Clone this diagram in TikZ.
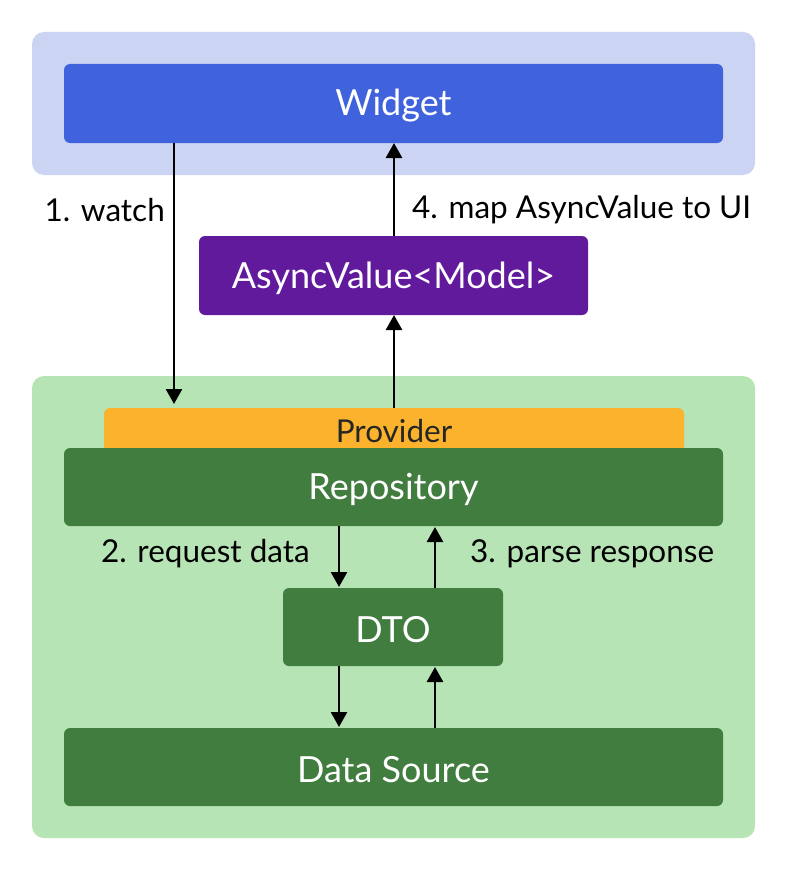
\documentclass[tikz,border=0pt]{standalone}
\usepackage{fontspec}
\setmainfont{Lato}
\usetikzlibrary{arrows.meta}
\definecolor{outerblue}{HTML}{CBD5F3}
\definecolor{widgetblue}{HTML}{4063DD}
\definecolor{outergreen}{HTML}{B7E4B5}
\definecolor{darkgreen}{HTML}{427D40}
\definecolor{provorange}{HTML}{FBB32D}
\definecolor{asyncpurple}{HTML}{621A9C}
\tikzset{
  container/.style={rounded corners=12pt, draw=none},
  box/.style={rounded corners=6pt, draw=none, text=white, font=\fontsize{36}{42}\selectfont},
  lbl/.style={font=\fontsize{31.5}{36}\selectfont, text=black, inner sep=0pt},
  conn/.style={line width=2.6pt, -{Triangle[length=15pt,width=16pt]}},
}
\begin{document}
\begin{tikzpicture}[x=1pt,y=-1pt]
\useasboundingbox (0,0) rectangle (788,872);
\fill[white] (0,0) rectangle (788,872);
% containers
\fill[outerblue, container] (32,32) rectangle (755,175);
\fill[outergreen, container] (32,376) rectangle (755,838);
% boxes
\fill[widgetblue, rounded corners=6pt] (64,64) rectangle (723,143);
\node[box] (widget) at (393.5,106) {Widget};
\fill[asyncpurple, rounded corners=6pt] (199,236) rectangle (588,315);
\node[box] (async) at (393.5,278) {AsyncValue<Model>};
\fill[provorange, rounded corners=6pt] (104,408) rectangle (684,454);
\node[lbl, text=black!85] (provider) at (394,431) {Provider};
\fill[darkgreen, rounded corners=6pt] (64,448) rectangle (723,526);
\node[box] (repo) at (393.5,489.5) {Repository};
\fill[darkgreen, rounded corners=6pt] (283,588) rectangle (503,666);
\node[box] (dto) at (393,629.5) {DTO};
\fill[darkgreen, rounded corners=6pt] (64,728) rectangle (723,806);
\node[box] (ds) at (393.5,769.5) {Data Source};
% anchor coordinates
\coordinate (w1) at (174,143);
\coordinate (p1) at (174,404);
\coordinate (w4) at (394,143);
\coordinate (a4) at (394,236);
\coordinate (a5) at (394,315);
\coordinate (p5) at (394,408);
\coordinate (r2) at (339,526);
\coordinate (d2) at (339,587);
\coordinate (r3) at (435,527);
\coordinate (d3) at (435,588);
\coordinate (d6) at (339,666);
\coordinate (s6) at (339,727);
\coordinate (d7) at (435,667);
\coordinate (s7) at (435,728);
% connectors
\draw[conn] (w1) -- (p1);
\draw[conn] (a4) -- (w4);
\draw[conn] (p5) -- (a5);
\draw[conn] (r2) -- (d2);
\draw[conn] (d3) -- (r3);
\draw[conn] (d6) -- (s6);
\draw[conn] (s7) -- (d7);
% labels
\node[lbl, anchor=east] (l1) at (165,210) {1. watch};
\node[lbl, anchor=west] (l4) at (412,210) {4. map AsyncValue to UI};
\node[lbl, anchor=east] (l2) at (310,554) {2. request data};
\node[lbl, anchor=west] (l3) at (470,554) {3. parse response};
\end{tikzpicture}
\end{document}
